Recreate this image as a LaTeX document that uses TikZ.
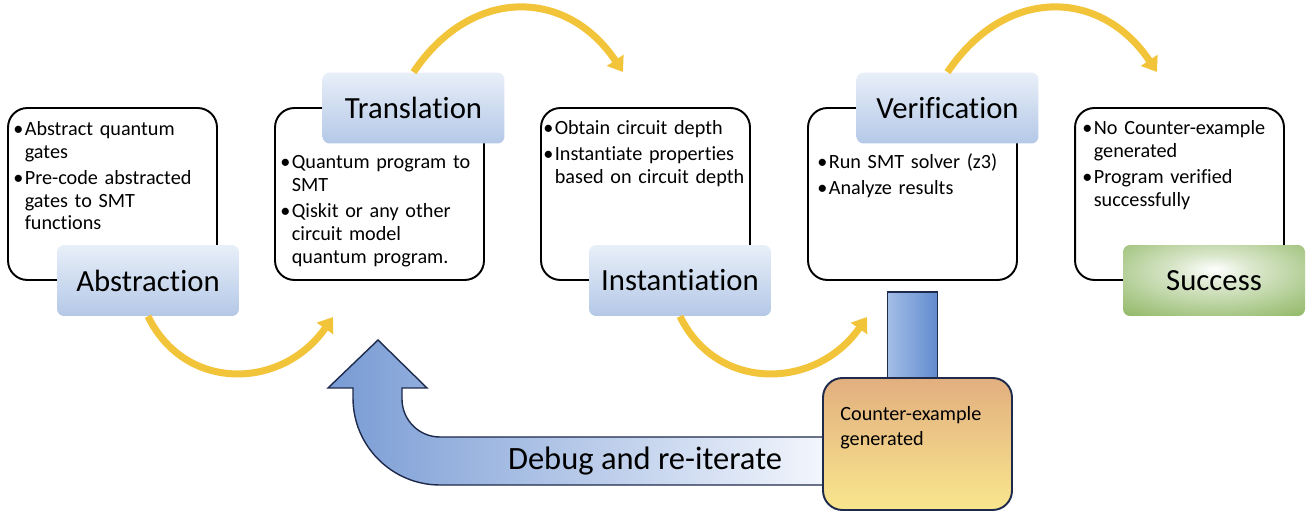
\documentclass[tikz,border=0pt]{standalone}
\usepackage{fontspec}
\setmainfont{Carlito}[Ligatures=CommonOff]
\usepackage{tikz}
\usetikzlibrary{arrows.meta,positioning,shapes.geometric}

\definecolor{labtop}{RGB}{232,239,248}
\definecolor{labbot}{RGB}{180,200,231}
\definecolor{okgreen}{RGB}{116,165,62}
\definecolor{goldarc}{RGB}{242,196,58}
\definecolor{navyline}{RGB}{30,42,75}
\definecolor{loopdark}{RGB}{120,155,212}
\definecolor{looplight}{RGB}{244,247,253}
\definecolor{cextop}{RGB}{226,175,127}
\definecolor{cexbot}{RGB}{249,230,142}
\definecolor{barleft}{RGB}{162,190,231}
\definecolor{barright}{RGB}{98,139,206}

\pgfdeclareradialshading{successglow}{\pgfpoint{0bp}{8bp}}{%
  color(0bp)=(white); color(10bp)=(white!75!okgreen);
  color(34bp)=(okgreen!70!white); color(50bp)=(okgreen); color(100bp)=(okgreen)}

% bullet item, continuation lines with \cont
\newcommand{\bitem}[1]{\par\noindent\makebox[6.5pt][l]{\textbullet}#1}
\newcommand{\cont}{\newline\hspace*{6.5pt}}

\tikzset{
  stepbox/.style={draw=black, line width=1.1pt, rounded corners=11pt,
    minimum width=4.18cm, minimum height=3.44cm},
  phase/.style={rounded corners=4pt, top color=labtop, bottom color=labbot,
    minimum width=3.64cm, minimum height=1.42cm,
    font=\fontsize{17.5}{20}\selectfont},
  bullets/.style={inner sep=0pt, text width=4.3cm, align=left,
    font=\fontsize{11.5}{13}\selectfont\setlength{\parskip}{1.8pt}},
  flow/.style={goldarc, line width=4pt, -{Triangle[width=11pt,length=8pt]}},
}

\begin{document}
\begin{tikzpicture}[x=0.02cm, y=-0.02cm]
  \useasboundingbox (0,0) rectangle (1311,516);

  % Feedback arrow (behind everything)
  \shadedraw[draw=navyline, line width=0.8pt, left color=loopdark, right color=looplight]
    (830,437) -- (440,437) .. controls (419,437) and (402,420) .. (402,399)
    -- (402,388) -- (427,388) -- (378,340) -- (328,388) -- (353,388)
    -- (353,398) .. controls (353,446) and (392,485) .. (440,485)
    -- (830,485) -- cycle;
  \node[font=\fontsize{18.5}{22}\selectfont] (debug) at (645,461) {Debug and re-iterate};

  % Step boxes
  \node[stepbox] (absbox) at (112.5,194) {};
  \node[stepbox] (trabox) at (379.5,194) {};
  \node[stepbox] (insbox) at (645.5,194) {};
  \node[stepbox] (verbox) at (912.5,194) {};
  \node[stepbox] (sucbox) at (1179.5,194) {};

  % Phase labels
  \node[phase] (abs) at (148,280.5) {Abstraction};
  \node[phase] (tra) at (413.5,108) {Translation};
  \node[phase] (ins) at (680,280.5) {Instantiation};
  \node[phase] (ver) at (947.5,108) {Verification};
  \node[rounded corners=4pt, shade, shading=successglow,
    minimum width=3.64cm, minimum height=1.42cm,
    font=\fontsize{17.5}{20}\selectfont] (suc) at (1214,280.5) {Success};

  % Bullet texts
  \node[bullets, below right=0.04cm and 0.12cm of absbox.north west] (abstxt)
    {\bitem{Abstract quantum\cont gates}
     \bitem{Pre-code abstracted\cont gates to SMT\cont functions}};
  \node[bullets, below right=0.71cm and 0.12cm of trabox.north west] (tratxt)
    {\bitem{Quantum program to\cont SMT}
     \bitem{Qiskit or any other\cont circuit model\cont quantum program.}};
  \node[bullets, below right=0.03cm and 0.06cm of insbox.north west] (instxt)
    {\bitem{Obtain circuit depth}
     \bitem{Instantiate properties\cont based on circuit depth}};
  \node[bullets, below right=0.71cm and 0.2cm of verbox.north west] (vertxt)
    {\bitem{Run SMT solver (z3)}
     \bitem{Analyze results}};
  \node[bullets, below right=0.03cm and 0.16cm of sucbox.north west] (suctxt)
    {\bitem{No Counter-example\cont generated}
     \bitem{Program verified\cont successfully}};

  % Flow arcs
  \coordinate (tipC) at (333,317);
  \coordinate (tipA) at (623,72);
  \coordinate (tipD) at (867,317);
  \coordinate (tipB) at (1157,72);
  \draw[flow] (abs.south) .. controls +(37,76) and +(-51,73) .. (tipC);
  \draw[flow] (tra.north) .. controls +(57,-85) and +(-57,-85) .. (tipA);
  \draw[flow] (ins.south) .. controls +(37,76) and +(-51,73) .. (tipD);
  \draw[flow] (ver.north) .. controls +(57,-85) and +(-57,-85) .. (tipB);

  % Counter-example branch
  \node[draw=navyline, line width=1pt, left color=barleft, right color=barright,
    minimum width=1cm, minimum height=1.72cm, inner sep=0pt] (bar) at (912.5,335) {};
  \node[draw=navyline, line width=1.1pt, rounded corners=11pt,
    top color=cextop, bottom color=cexbot,
    minimum width=3.78cm, minimum height=2.64cm] (cex) at (917.5,444) {};
  \node[anchor=north west, inner sep=0pt, align=left,
    font=\fontsize{11.5}{14.2}\selectfont] (cextxt) at (840,406)
    {Counter-example\\generated};
\end{tikzpicture}
\end{document}
